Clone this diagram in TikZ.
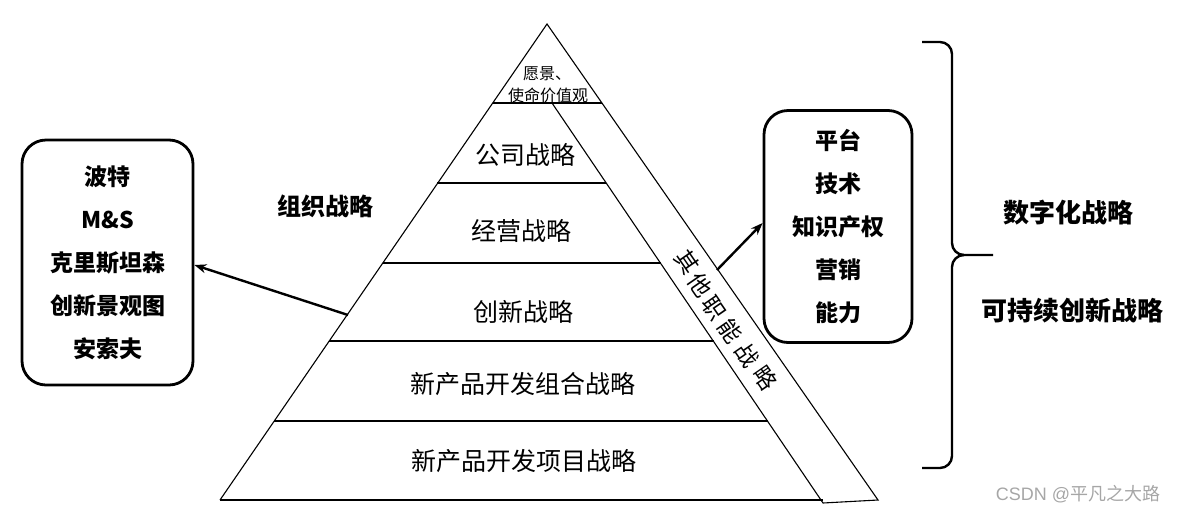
\documentclass[tikz,border=0pt]{standalone}
\usepackage{fontspec}
\setmainfont{Noto Sans CJK SC}
\newfontfamily\wmfont{Liberation Sans}
\usetikzlibrary{arrows.meta}
\begin{document}
\begin{tikzpicture}[x=1pt,y=-1pt,
  thinline/.style={line width=1.1pt, black},
  layertext/.style={font=\fontsize{25}{28}\selectfont, inner sep=0pt},
  sidechar/.style={font=\fontsize{23}{26}\selectfont, inner sep=0pt, rotate=-55.4},
  boldtext/.style={font=\bfseries\fontsize{24}{28}\selectfont, inner sep=0pt},
  listbox/.style={draw, line width=2.8pt, rounded corners=24pt, align=center,
    font=\bfseries\fontsize{23}{43}\selectfont, inner sep=0pt},
  arr/.style={line width=2.4pt, -{Stealth[length=12pt,width=9pt]}},
]
\useasboundingbox (0,0) rectangle (1180,515);
% pyramid points
\coordinate (apex) at (547,24);
\coordinate (bl) at (220,500);
\coordinate (br) at (878,500);
\coordinate (s0) at (552,103);
\coordinate (s5) at (823,503);
% outer triangle and strip
\draw[thinline] (bl) -- (apex) -- (br) -- (s5) -- (s0);
% layer lines
\draw[thinline] (493,103) -- (602,103);
\draw[thinline] (437,183) -- (606,183);
\draw[thinline] (383,263) -- (661,263);
\draw[thinline] (329,341) -- (714,341);
\draw[thinline] (274,421) -- (768,421);
\draw[thinline] (bl) -- (823,500);
% layer texts
\node[inner sep=0pt, font=\fontsize{16}{20}\selectfont] (t0a) at (547,74) {愿景、};
\node[inner sep=0pt, font=\fontsize{16}{20}\selectfont] (t0b) at (548,95) {使命价值观};
\node[layertext] (t1) at (525,155) {公司战略};
\node[layertext] (t2) at (521,231) {经营战略};
\node[layertext] (t3) at (523,312) {创新战略};
\node[layertext] (t4) at (523,384) {新产品开发组合战略};
\node[layertext] (t5) at (524,461) {新产品开发项目战略};
% side strip text, one character at a time
\node[sidechar] (c1) at (687,262) {其};
\node[sidechar] (c2) at (700,285) {他};
\node[sidechar] (c3) at (714,308) {职};
\node[sidechar] (c4) at (730,331) {能};
\node[sidechar] (c5) at (747,355) {战};
\node[sidechar] (c6) at (765,378) {略};
\node[boldtext] (org) at (325,206) {组织战略};
% boxes
\node[listbox, minimum width=171pt, minimum height=245pt] (lbox) at (107.5,262.5)
  {\raisebox{-3pt}{\parbox{150pt}{\centering 波特\\M\&S\\克里斯坦森\\创新景观图\\安索夫}}};
\node[listbox, minimum width=148pt, minimum height=232pt] (rbox) at (838,226.5)
  {\raisebox{-2.5pt}{\parbox{130pt}{\centering 平台\\技术\\知识产权\\营销\\能力}}};
% arrows
\coordinate (la) at (348,315);
\coordinate (ra) at (717,270);
\draw[arr] (la) -- (lbox.east |- 0,265);
\draw[arr] (ra) -- (rbox.west |- 0,223);
% brace
\draw[line width=2.4pt] (922,42) -- (940,42) to[out=0,in=90] (952,54) -- (952,243)
  to[out=-90,in=180] (964,255) -- (993,255);
\draw[line width=2.4pt] (964,255) to[out=180,in=90] (952,267) -- (952,456)
  to[out=-90,in=0] (940,468) -- (922,468);
\node[font=\bfseries\fontsize{26}{30}\selectfont, inner sep=0pt] (dig) at (1068,213) {数字化战略};
\node[font=\bfseries\fontsize{26}{30}\selectfont, inner sep=0pt] (sus) at (1072,311) {可持续创新战略};
% watermark
\node[inner sep=0pt, text=black!35, font=\fontsize{18}{20}\selectfont] (wm) at (1078,494)
  {{\wmfont CSDN @}平凡之大路};
\end{tikzpicture}
\end{document}
